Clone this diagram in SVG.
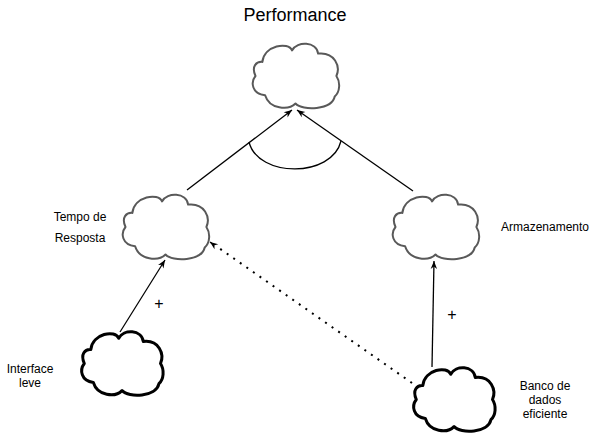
<svg xmlns="http://www.w3.org/2000/svg" width="601" height="435" viewBox="0 0 601 435">
<style>
  text { font-family: "Liberation Sans", Arial, sans-serif; fill: #000; }
  .lbl { font-size: 12px; }
  .title { font-size: 18px; }
  .plus { font-size: 16px; }
  .cloud { fill: #fff; stroke-linejoin: round; }
  .soft { stroke: #595959; stroke-width: 2; }
  .hard { stroke: #000; stroke-width: 3; }
  .edge { fill: none; stroke: #000; stroke-width: 1.3; }
  .dot { stroke-width: 2; stroke-dasharray: 2 6; }
</style>
<defs>
  <path id="cloudA" d="M10.4,17.9 C12.2,1.3 36.5,-2.6 40.0,6.4 C45.2,-3.2 64.4,-2.6 66.1,9.6 C82.7,7.7 88.7,22.4 84.4,32 C88.7,38.4 87.9,48 82.7,52.5 C80.0,65.9 50.5,67.2 43.5,59.5 C36.5,66.6 17.4,65.3 13.1,51.2 C0,49.9 -1.7,38.4 3.5,32 C-0.9,22.4 4.4,17.3 10.4,17.9 Z"/>
  <path id="cloudB" d="M9.8,17.6 C11.5,1.3 34.4,-2.5 37.7,6.3 C42.6,-3.2 60.7,-2.5 62.3,9.5 C77.9,7.6 83.6,22.1 79.5,31.5 C83.6,37.8 82.8,47.3 77.9,51.7 C75.4,64.9 47.6,66.2 41,58.6 C34.4,65.5 16.4,64.3 12.3,50.4 C0,49.1 -1.6,37.8 3.3,31.5 C-0.8,22.1 4.1,17.0 9.8,17.6 Z"/>
  <marker id="arr" viewBox="0 0 10 10" refX="10" refY="5" markerWidth="10" markerHeight="8" markerUnits="userSpaceOnUse" orient="auto">
    <path d="M0,1 L10,5 L0,9 L3,5 Z" fill="#000"/>
  </marker>
</defs>
<text class="title" x="295" y="21" text-anchor="middle">Performance</text>
<g id="edges">
  <line class="edge" x1="187" y1="190" x2="292" y2="110" marker-end="url(#arr)"/>
  <line class="edge" x1="413" y1="191" x2="297" y2="110" marker-end="url(#arr)"/>
  <path class="edge" d="M249,142 C258,178 332,178 341,141"/>
  <line class="edge" x1="120" y1="332" x2="165" y2="260" marker-end="url(#arr)"/>
  <line class="edge" x1="432" y1="367" x2="434" y2="261" marker-end="url(#arr)"/>
  <line class="edge dot" x1="412" y1="383" x2="216" y2="246"/>
  <line class="edge" x1="214" y1="245" x2="210" y2="242" marker-end="url(#arr)"/>
  <text class="plus" x="159" y="309" text-anchor="middle">+</text>
  <text class="plus" x="452" y="320" text-anchor="middle">+</text>
</g>
<g id="performance">
  <use href="#cloudA" class="cloud soft" transform="translate(252,44)"/>
</g>
<g id="tempo">
  <use href="#cloudA" class="cloud soft" transform="translate(122,195)"/>
  <text class="lbl" x="80" y="221" text-anchor="middle">Tempo de</text>
  <text class="lbl" x="80" y="242" text-anchor="middle">Resposta</text>
</g>
<g id="armazenamento">
  <use href="#cloudA" class="cloud soft" transform="translate(392,195)"/>
  <text class="lbl" x="545" y="231" text-anchor="middle">Armazenamento</text>
</g>
<g id="interface">
  <use href="#cloudB" class="cloud hard" transform="translate(81,332)"/>
  <text class="lbl" x="30" y="373" text-anchor="middle">Interface</text>
  <text class="lbl" x="30" y="387" text-anchor="middle">leve</text>
</g>
<g id="banco">
  <use href="#cloudB" class="cloud hard" transform="translate(413,368)"/>
  <text class="lbl" x="545" y="390" text-anchor="middle">Banco de</text>
  <text class="lbl" x="545" y="404" text-anchor="middle">dados</text>
  <text class="lbl" x="545" y="418" text-anchor="middle">eficiente</text>
</g>
</svg>
